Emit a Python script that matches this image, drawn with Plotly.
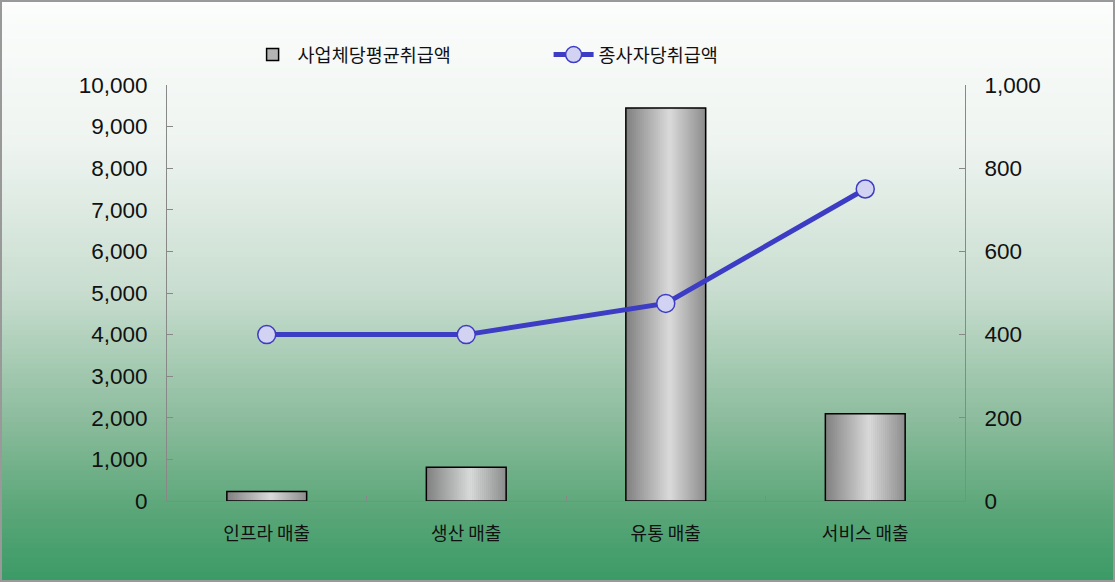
import plotly.graph_objects as go

categories = ["인프라 매출", "생산 매출", "유통 매출", "서비스 매출"]
avg_per_business = [230, 810, 9450, 2100]   # 사업체당평균취급액 (left axis)
per_employee = [400, 400, 475, 750]         # 종사자당취급액 (right axis)
bar_name = "사업체당평균취급액"
line_name = "종사자당취급액"

W, H = 1115, 582
ML, MR, MT, MB = 167, 150, 85, 81
PW, PH = W - ML - MR, H - MT - MB

FONT = "Liberation Sans, Noto Sans CJK KR, sans-serif"
KFONT = "Noto Sans CJK KR, sans-serif"

def lerp(c1, c2, t):
    return tuple(int(round(a + (b - a) * t)) for a, b in zip(c1, c2))

def grad(stops, t):
    for (p1, c1), (p2, c2) in zip(stops, stops[1:]):
        if p1 <= t <= p2:
            return lerp(c1, c2, (t - p1) / (p2 - p1))
    return stops[-1][1]

fig = go.Figure()

# background gradient (paper-referenced rectangles)
bg_stops = [(0.0, (252, 253, 252)), (0.25, (238, 244, 240)), (0.5, (200, 221, 207)),
            (0.72, (140, 188, 157)), (0.88, (90, 166, 120)), (1.0, (58, 154, 102))]
shapes = []
N = 120
px0 = -ML / PW
px1 = (W - ML) / PW
for i in range(N):
    top_px = H * i / N
    bot_px = H * (i + 1) / N + 0.8
    c = grad(bg_stops, (i + 0.5) / N)
    shapes.append(dict(type="rect", xref="paper", yref="paper", layer="below",
                       x0=px0, x1=px1,
                       y0=(H - MB - bot_px) / PH, y1=(H - MB - top_px) / PH,
                       line=dict(width=0), fillcolor="rgb(%d,%d,%d)" % c))
# outer frame
shapes.append(dict(type="rect", xref="paper", yref="paper", layer="above",
                   x0=px0 + 1 / PW, x1=px1 - 1 / PW, y0=-(MB - 1) / PH, y1=(H - MB - 1) / PH,
                   line=dict(color="#999999", width=2), fillcolor="rgba(0,0,0,0)"))

# bars as vertical strips to imitate the cylinder gradient
bar_w = 0.4
S = 40
bar_stops = [(0.0, (128, 128, 128)), (0.55, (218, 218, 218)), (1.0, (140, 140, 140))]
for i in range(S):
    t = (i + 0.5) / S
    c = grad(bar_stops, t)
    fig.add_trace(go.Bar(x=categories, y=avg_per_business, width=bar_w / S + 0.003,
                         offset=-bar_w / 2 + i * bar_w / S,
                         marker=dict(color="rgb(%d,%d,%d)" % c, line=dict(width=0)),
                         showlegend=False, hoverinfo="skip", yaxis="y"))
# outline
fig.add_trace(go.Bar(x=categories, y=avg_per_business, width=bar_w, offset=-bar_w / 2,
                     marker=dict(color="rgba(0,0,0,0)", line=dict(color="#000000", width=1.5)),
                     showlegend=False, name=bar_name, yaxis="y"))
# legend entry for bars
fig.add_trace(go.Bar(x=[categories[0]], y=[None], name=bar_name,
                     marker=dict(color="#b4b4b4", line=dict(color="#000000", width=1.5)),
                     showlegend=True, yaxis="y"))

fig.add_trace(go.Scatter(x=categories, y=per_employee, name=line_name, yaxis="y2",
                         mode="lines+markers",
                         line=dict(color="#3c3cc4", width=5),
                         marker=dict(size=18, color="#d2d2f2", line=dict(color="#3c3cc4", width=1.5))))

axis_common = dict(showgrid=False, zeroline=False, showline=True, linecolor="#888888",
                   linewidth=1, ticks="inside", ticklen=6, tickcolor="#888888",
                   ticklabelstandoff=14,
                   tickfont=dict(family=FONT, size=22.5, color="#111111"))

fig.update_layout(
    width=W, height=H,
    margin=dict(l=ML, r=MR, t=MT, b=MB, pad=0),
    paper_bgcolor="white", plot_bgcolor="rgba(0,0,0,0)",
    barmode="overlay",
    shapes=shapes,
    xaxis=dict(type="category", range=[-0.5, 3.5], showgrid=False, zeroline=False,
               showline=True, linecolor="#888888", ticks="inside", tickson="boundaries",
               ticklen=5, tickcolor="#888888", ticklabelstandoff=16,
               tickfont=dict(family=KFONT, size=18, color="#111111")),
    yaxis=dict(range=[0, 10000], dtick=1000, tickformat=",", **axis_common),
    yaxis2=dict(range=[0, 1000], dtick=200, tickformat=",", overlaying="y", side="right",
                **axis_common),
    legend=dict(orientation="h", x=0.101, y=1.072, xanchor="left", yanchor="middle",
                bgcolor="rgba(0,0,0,0)", entrywidth=246, entrywidthmode="pixels",
                font=dict(family=KFONT, size=18.5, color="#111111"), itemwidth=40),
    showlegend=True,
)
fig.write_html("out.html", config={"displayModeBar": False},
               post_script="document.body.style.margin='0';document.body.style.padding='0';")
